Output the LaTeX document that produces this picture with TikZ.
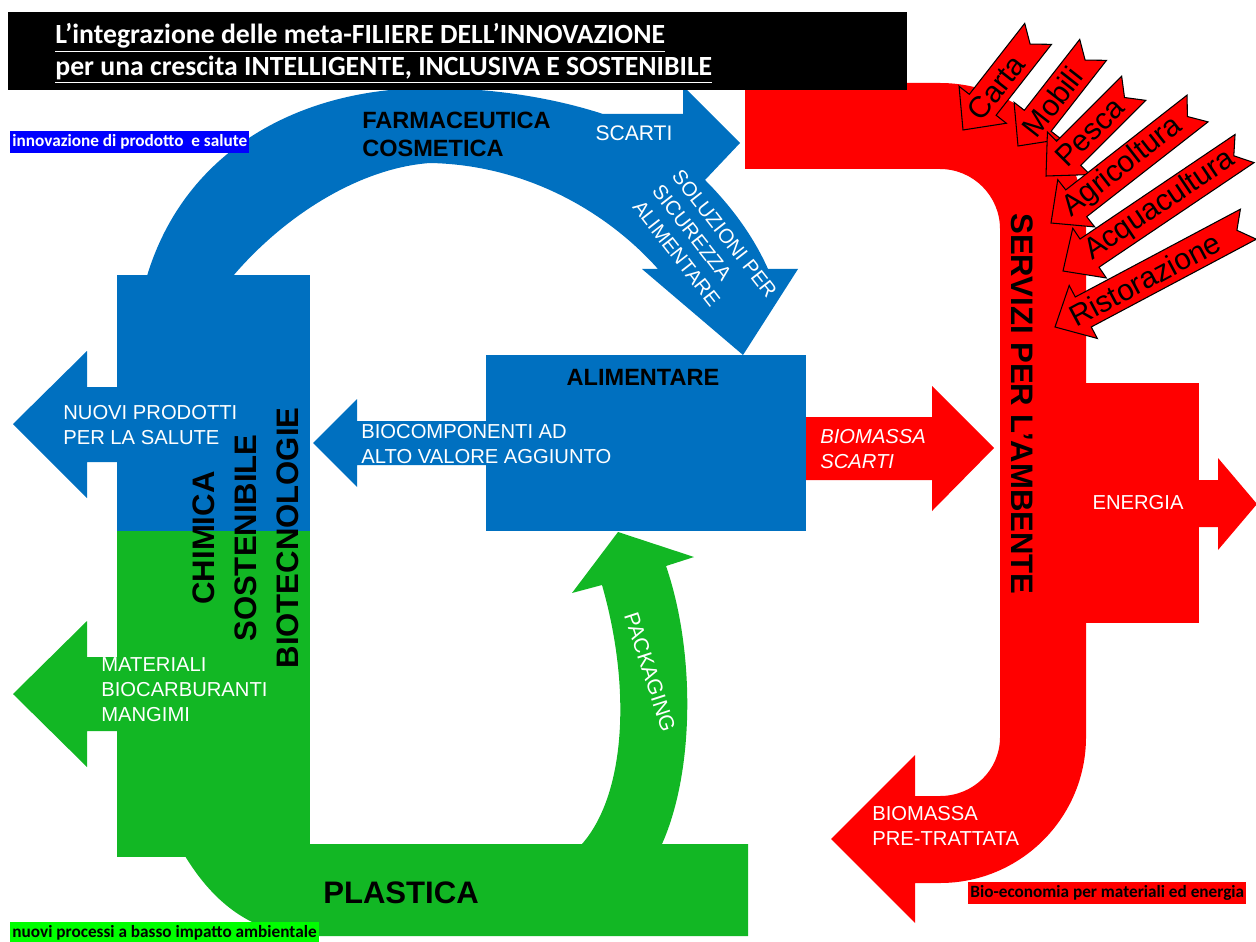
\documentclass[tikz,border=0pt]{standalone}
\usepackage{fontspec}
\setmainfont{Liberation Sans}
\newfontfamily\calibri{Carlito}
\usetikzlibrary{positioning}
\definecolor{azzurro}{RGB}{0,112,192}
\definecolor{verde}{RGB}{18,183,36}
\definecolor{rosso}{RGB}{255,0,0}
\definecolor{bluetag}{RGB}{0,0,255}
\definecolor{greentag}{RGB}{0,255,0}
\tikzstyle{bluefill} = [fill=azzurro, draw=none]
\tikzstyle{greenfill} = [fill=verde, draw=none]
\tikzstyle{redfill} = [fill=rosso, draw=none]
\tikzstyle{sector} = [fill=rosso, draw=black, line width=0.6pt, line join=miter]
\tikzstyle{sectortext} = [font=\fontsize{17}{20}\selectfont, text=black, inner sep=0pt]
\tikzstyle{whitelabel} = [font=\fontsize{11.5}{14.2}\selectfont, text=white, align=left, inner sep=0pt]
\tikzstyle{boldlabel} = [font=\bfseries\fontsize{13.4}{15.9}\selectfont, text=black, align=left, inner sep=0pt]
\tikzstyle{biglabel} = [font=\bfseries\fontsize{17.7}{23.8}\selectfont, text=black, align=center, inner sep=0pt]
\tikzstyle{titletext} = [font=\calibri\bfseries\fontsize{15.8}{18}\selectfont, text=white, inner sep=0pt]
\tikzstyle{tag} = [font=\calibri\bfseries\fontsize{9.8}{11}\selectfont, text height=7.4pt, text depth=2pt, inner xsep=1.2pt, inner ysep=1.5pt]

% notched sector arrow: tip, angle, length, text position, text
\newcommand{\settore}[5]{%
  \begin{scope}[shift={(#1)}, rotate=#2]
    \filldraw[sector] (0,0) -- (32,30) -- (32,17) -- (#3,17) -- ({#3-13},0) -- (#3,-17) -- (32,-17) -- (32,-30) -- cycle;
    \node[sectortext, rotate=#2] (#5) at (#4,0) {#5};
  \end{scope}}

\begin{document}
\begin{tikzpicture}[x=0.02cm, y=-0.02cm]
\useasboundingbox (0,0) rectangle (1256,942);

% green: plastica
\fill[greenfill] (117,531) rectangle (310,857);
\fill[greenfill] (117,657) -- (87,657) -- (87,621) -- (13,694) -- (87,767) -- (87,731) -- (117,731) -- cycle;
\fill[greenfill] (185,856) .. controls (215,905) and (255,936) .. (315,936) -- (748,936) -- (748,844) -- (310,844) -- (310,856) -- cycle;
\fill[greenfill] (582,844) .. controls (625,795) and (632,690) .. (602,585) -- (572,593) -- (618,532) -- (694,557) -- (666,566) .. controls (695,650) and (695,770) .. (662,844) -- cycle;

% blue: farmaceutica and alimentare
\fill[bluefill] (117,275) rectangle (310,531);
\fill[bluefill] (117,387) -- (87,387) -- (87,351) -- (13,424) -- (87,498) -- (87,462) -- (117,462) -- cycle;
\fill[bluefill] (147,276) .. controls (185,150) and (300,88) .. (430,88) .. controls (500,88) and (560,100) .. (603,114) -- (683,114) -- (683,86) -- (740,143) -- (705,180) .. controls (735,210) and (755,240) .. (768,269) -- (798,269) -- (743,355) -- (642,269) -- (658,269) .. controls (610,215) and (530,165) .. (430,163) .. controls (360,168) and (285,215) .. (233,276) -- cycle;
\fill[bluefill] (486,355) rectangle (806,531);
\fill[bluefill] (486,421) -- (357,421) -- (357,399) -- (313,443) -- (357,487) -- (357,465) -- (486,465) -- cycle;

% red: servizi per l'ambiente
\fill[redfill] (806,417) -- (932,417) -- (932,386) -- (994,448) -- (932,511) -- (932,480) -- (806,480) -- cycle;
\fill[redfill] (745,83) -- (940,83) .. controls (1020.6,83) and (1086,148.4) .. (1086,229) -- (1086,737) .. controls (1086,817.6) and (1020.6,883) .. (940,883) -- (915,883) -- (915,923) -- (831,839) -- (915,755) -- (915,796) -- (940,796) .. controls (973.1,796) and (1000,770.1) .. (1000,737) -- (1000,229) .. controls (1000,195.9) and (973.1,169) .. (940,169) -- (745,169) -- cycle;
\fill[redfill] (1086,383) rectangle (1199,623);
\fill[redfill] (1199,480) -- (1218,480) -- (1218,458) -- (1257,504) -- (1218,550) -- (1218,527) -- (1199,527) -- cycle;

\settore{963,130}{52}{122}{54}{Carta}
\settore{1018,146}{52}{122}{56}{Mobili}
\settore{1046,176}{45}{124}{62}{Pesca}
\settore{1051,223}{38}{186}{91}{Agricoltura}
\settore{1063,271}{34}{219}{117}{Acquacultura}
\settore{1055,327}{28}{219}{102}{Ristorazione}

% labels
\node[boldlabel, anchor=west] (farma) at (362,134) {FARMACEUTICA\\COSMETICA};
\node[whitelabel, font=\fontsize{12}{14}\selectfont] (scarti) at (634,133) {SCARTI};
\node[whitelabel, rotate=-52] (soluzioni) at (705,249) {SOLUZIONI PER\\SICUREZZA\\ALIMENTARE};
\node[boldlabel] (alim) at (643,377) {ALIMENTARE};
\node[whitelabel, anchor=west] (biocomp) at (361,444) {BIOCOMPONENTI AD\\ALTO VALORE AGGIUNTO};
\node[whitelabel, anchor=west] (nuovi) at (63,425) {NUOVI PRODOTTI\\PER LA SALUTE};
\node[whitelabel, anchor=west] (materiali) at (101,690) {MATERIALI\\BIOCARBURANTI\\MANGIMI};
\node[biglabel, rotate=90] (chimica) at (246,538) {CHIMICA\\SOSTENIBILE\\BIOTECNOLOGIE};
\node[biglabel] (plastica) at (401,893) {PLASTICA};
\node[whitelabel, font=\fontsize{12}{14}\selectfont, rotate=-72] (packaging) at (650,672) {PACKAGING};
\node[whitelabel, font=\itshape\fontsize{11.5}{14.2}\selectfont, anchor=west] (biomassa) at (820,449) {BIOMASSA\\SCARTI};
\node[biglabel, rotate=-90] (servizi) at (1022,404) {SERVIZI PER L’AMBENTE};
\node[whitelabel] (energia) at (1138,503) {ENERGIA};
\node[whitelabel, anchor=west] (pretratt) at (872,826) {BIOMASSA\\PRE-TRATTATA};

% title
\fill[black] (8,12) rectangle (907,90);
\node[titletext, anchor=base west] (title1) at (55,44) {\underline{L’integrazione delle meta-FILIERE DELL’INNOVAZIONE}};
\node[titletext, anchor=base west] (title2) at (55,76) {\underline{per una crescita INTELLIGENTE, INCLUSIVA E SOSTENIBILE}};

% tags
\node[tag, fill=bluetag, text=white, anchor=west] (tagblu) at (10,142) {innovazione di prodotto\ \ e salute};
\node[tag, fill=greentag, text=black, anchor=west] (tagverde) at (10,933) {nuovi processi a basso impatto ambientale};
\node[tag, fill=rosso, text=black, anchor=west] (tagrosso) at (968,893) {Bio-economia per materiali ed energia};
\end{tikzpicture}
\end{document}
